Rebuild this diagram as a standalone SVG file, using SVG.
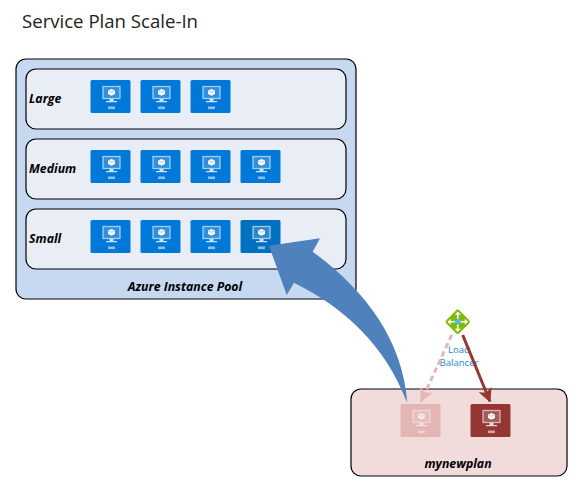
<svg xmlns="http://www.w3.org/2000/svg" width="583" height="493" viewBox="0 0 583 493">
<style>
.box{stroke:#000;stroke-width:1.2}
.lbl{font-family:"Open Sans","Liberation Sans",sans-serif;font-weight:700;font-style:italic;font-size:12.3px;fill:#000}
.lb{font-family:"Open Sans","Liberation Sans",sans-serif;font-size:9.6px;fill:#1f86d6}
</style>
<defs>
<symbol id="vm" viewBox="0 0 40 33" width="40" height="33" overflow="visible">
<rect x="0" y="0" width="40" height="33" rx="1.5" style="fill:inherit"/>
<rect x="12.500" y="6.500" width="17" height="12" fill="#fff" fill-opacity=".18" stroke="#fff" stroke-opacity=".6" stroke-width="1.300"/>
<path d="M17.500 10.500l3.500-1.600 3.500 1.600v3.400l-3.500 1.900-3.500-1.900z" fill="#fff"/>
<path d="M17.800 10.800l3.200 1.500 3.200-1.500" fill="none" stroke="#000" stroke-opacity=".35" stroke-width=".7"/>
<path d="M19 19h4v2h3.500v1.300h-11v-1.300h3.500z" fill="#fff" fill-opacity=".8"/>
<rect x="17.500" y="26.500" width="7" height="2.600" fill="#fff" fill-opacity=".55"/>
</symbol>
<marker id="ah" viewBox="0 0 14 14" refX="13" refY="7" markerWidth="14" markerHeight="14" markerUnits="userSpaceOnUse" orient="auto"><path d="M0 0L14 7L0 14L3.500 7z" fill="#943634"/></marker>
<marker id="ahf" viewBox="0 0 14 14" refX="13" refY="7" markerWidth="14" markerHeight="14" markerUnits="userSpaceOnUse" orient="auto"><path d="M0 0L14 7L0 14L3.500 7z" fill="#e6b8b5"/></marker>
</defs>
<text x="22" y="28" font-family="'Open Sans','Liberation Sans',sans-serif" font-size="18.600" fill="#222">Service Plan Scale-In</text>
<g id="pool"><rect class="box" x="16" y="59" width="340" height="240" rx="10" fill="#c6d9f0"/>
<text class="lbl" x="185" y="291" text-anchor="middle">Azure Instance Pool</text></g>
<g id="large"><rect class="box" x="26" y="69" width="320" height="60" rx="10" fill="#e9eef6"/><text class="lbl" x="29" y="103">Large</text></g>
<g id="medium"><rect class="box" x="26" y="139" width="320" height="60" rx="10" fill="#e9eef6"/><text class="lbl" x="29" y="173">Medium</text></g>
<g id="small"><rect class="box" x="26" y="209" width="320" height="60" rx="10" fill="#e9eef6"/><text class="lbl" x="29" y="243">Small</text></g>
<g id="vm-l1" fill="#0078d7"><use href="#vm" x="90.500" y="80"/></g>
<g id="vm-l2" fill="#0078d7"><use href="#vm" x="140.500" y="80"/></g>
<g id="vm-l3" fill="#0078d7"><use href="#vm" x="190.500" y="80"/></g>
<g id="vm-m1" fill="#0078d7"><use href="#vm" x="90.500" y="150"/></g>
<g id="vm-m2" fill="#0078d7"><use href="#vm" x="140.500" y="150"/></g>
<g id="vm-m3" fill="#0078d7"><use href="#vm" x="190.500" y="150"/></g>
<g id="vm-m4" fill="#0078d7"><use href="#vm" x="240.500" y="150"/></g>
<g id="vm-s1" fill="#0078d7"><use href="#vm" x="90.500" y="220"/></g>
<g id="vm-s2" fill="#0078d7"><use href="#vm" x="140.500" y="220"/></g>
<g id="vm-s3" fill="#0078d7"><use href="#vm" x="190.500" y="220"/></g>
<g id="vm-s4" fill="#0070c0"><use href="#vm" x="240.500" y="220"/></g>
<g id="mynewplan"><rect class="box" x="351" y="389" width="216" height="87" rx="10" fill="#f2dcdb"/>
<text class="lbl" x="458" y="468" text-anchor="middle">mynewplan</text></g>
<g id="vm-faded" fill="#cf7f7c" opacity=".4"><use href="#vm" x="400.500" y="404"/></g>
<g id="vm-dark" fill="#943634"><use href="#vm" x="470.500" y="404"/></g>
<g id="lb">
<rect x="448.500" y="312.500" width="18.500" height="18.500" rx="2.500" transform="rotate(45 457.750 321.750)" fill="#7fba00"/>
<path d="M457.750 314.500v14.500M450.500 321.750h14.500" stroke="#fff" stroke-width="1.600"/>
<path d="M457.750 311.500l-3 3.200h6zM457.750 332l-3-3.200h6zM447.500 321.750l3.200-3v6zM468 321.750l-3.200-3v6z" fill="#fff"/>
<circle cx="457.750" cy="321.750" r="3" fill="#59b4d9"/>
<text class="lb" x="459" y="353" text-anchor="middle">Load</text>
<text class="lb" x="459" y="366" text-anchor="middle">Balancer</text>
</g>
<g id="connectors">
<path d="M451.700 335L421 401.500" fill="none" stroke="#e6b8b5" stroke-width="3" stroke-dasharray="5.500 3.500" marker-end="url(#ahf)"/>
<path d="M462.700 335L490 401.500" fill="none" stroke="#943634" stroke-width="3" marker-end="url(#ah)"/>
<path d="M407.300 403C403 340 365 290 312.700 251.700L320 238.300L269 245.700L286.700 295L294 282.700C345 308 385 345 407.300 403z" fill="#4f81bd"/>
</g>
</svg>
